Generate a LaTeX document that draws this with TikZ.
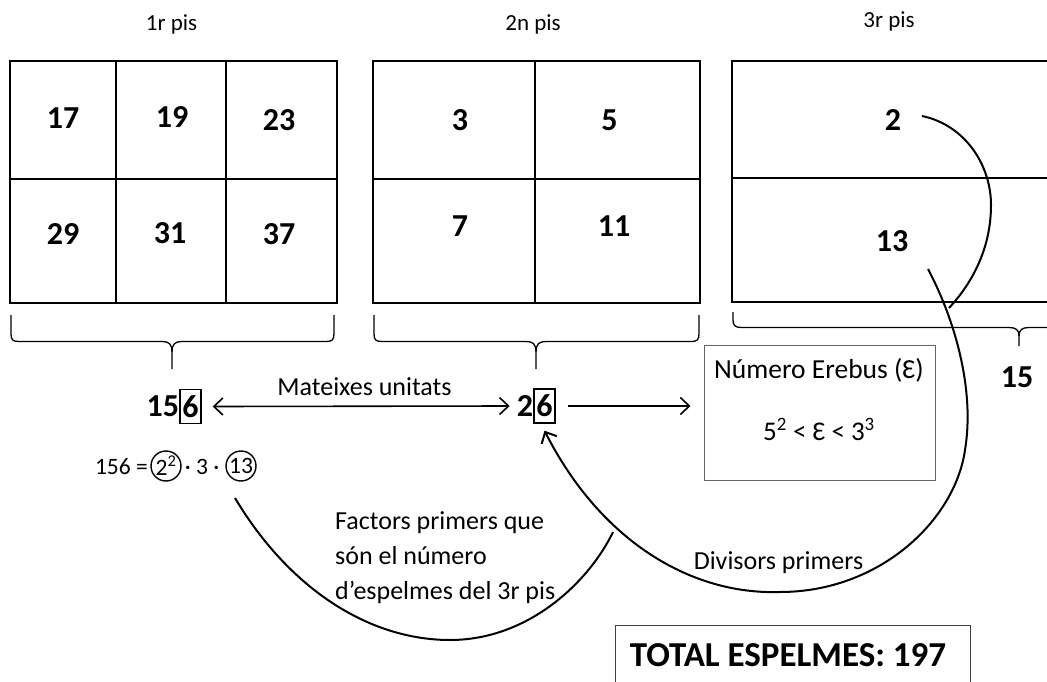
\documentclass[tikz,border=0pt]{standalone}
\usepackage{fontspec}
\setmainfont{Carlito}
\usetikzlibrary{arrows.meta}
\begin{document}
\begin{tikzpicture}[x=1pt,y=-1pt,
  lbl/.style={font=\fontsize{23}{27}\selectfont, inner sep=0pt},
  txt/.style={font=\fontsize{26}{30}\selectfont, inner sep=0pt},
  eqt/.style={font=\fontsize{23.5}{27}\selectfont, inner sep=0pt},
  num/.style={font=\fontsize{32}{36}\selectfont\bfseries, inner sep=0pt},
  outerline/.style={line width=2.2pt},
  innerline/.style={line width=1.3pt},
  braceline/.style={line width=1.3pt},
  unitbox/.style={draw, line width=1.4pt, inner sep=0pt, minimum width=21pt, minimum height=34pt, font=\fontsize{32}{36}\selectfont\bfseries},
  fcirc/.style={draw, circle, line width=1.4pt, inner sep=0pt, minimum size=30pt, font=\fontsize{23.5}{27}\selectfont},
  arrline/.style={line width=1.6pt},
  curveline/.style={line width=2pt},
  >={Straight Barb[length=9pt,width=17pt]}
]
\useasboundingbox (0,0) rectangle (1047,682);
\fill[white] (0,0) rectangle (1047,682);

% titles
\node[lbl, anchor=base] (t1) at (171.5,31) {1r pis};
\node[lbl, anchor=base] (t2) at (533,31) {2n pis};
\node[lbl, anchor=base] (t3) at (889,28) {3r pis};

% floor 1
\draw[innerline] (116,61) -- (116,303) (226,61) -- (226,303) (10,179) -- (337,179);
\draw[outerline] (10,61) rectangle (337,303);
\node[num] (c17) at (63,118.5) {17};
\node[num] (c19) at (172,117) {19};
\node[num] (c23) at (279,120) {23};
\node[num] (c29) at (63,234) {29};
\node[num] (c31) at (170,233) {31};
\node[num] (c37) at (279,234) {37};

% floor 2
\draw[innerline] (535,61) -- (535,303) (373,179) -- (700,179);
\draw[outerline] (373,61) rectangle (700,303);
\node[num] (c3) at (460,120) {3};
\node[num] (c5) at (609.5,120) {5};
\node[num] (c7) at (460,226) {7};
\node[num] (c11) at (614,226) {11};

% floor 3
\draw[innerline] (732,178) -- (1060,178);
\draw[outerline] (732,61) rectangle (1060,302);
\node[num] (c2) at (893,120) {2};
\node[num] (c13) at (892,241) {13};

% braces
\draw[braceline] (11,315) -- (11,334) .. controls (11,340) and (13,341.5) .. (19,341.5) -- (162,341.5)
  .. controls (169,341.5) and (172,344) .. (172,352) -- (172,369);
\draw[braceline] (334,315) -- (334,334) .. controls (334,340) and (332,341.5) .. (326,341.5) -- (182,341.5)
  .. controls (175,341.5) and (172,344) .. (172,352);
\draw[braceline] (374,315) -- (374,334) .. controls (374,340) and (376,341.5) .. (382,341.5) -- (526,341.5)
  .. controls (533,341.5) and (536,344) .. (536,352) -- (536,369);
\draw[braceline] (699,315) -- (699,334) .. controls (699,340) and (697,341.5) .. (691,341.5) -- (546,341.5)
  .. controls (539,341.5) and (536,344) .. (536,352);
\draw[braceline] (733,312) -- (733,320) .. controls (733,325) and (735,327.5) .. (741,327.5) -- (1009,327.5)
  .. controls (1016,327.5) and (1019,330) .. (1019,336) -- (1019,346);
\draw[braceline] (1060,327.5) -- (1029,327.5) .. controls (1022,327.5) and (1019,330) .. (1019,336);
\node[num] (n15) at (1017,377) {15};

% 156 and 26
\node[unitbox] (u156) at (190.5,406.5) {6};
\node[num, anchor=east] (t156) at (u156.west) {15};
\node[unitbox] (u26) at (544.5,406) {6};
\node[num, anchor=east] (t26) at (u26.west) {2};
\draw[arrline,<->] ([xshift=11pt]u156.east) -- ([xshift=-7pt]t26.west);
\node[txt, anchor=base] (mu) at (364.5,395) {Mateixes unitats};

% Erebus
\node[draw=black!60, line width=1pt, minimum width=231pt, minimum height=135pt, inner sep=0pt] (ereb) at (819.5,412.5) {};
\node[txt, font=\fontsize{27.5}{30}\selectfont, anchor=base] (e1) at (819,378) {Número Erebus (Ɛ)};
\node[txt, font=\fontsize{27}{30}\selectfont, anchor=base] (e2) at (819,440) {5\textsuperscript{2} < Ɛ < 3\textsuperscript{3}};
\draw[arrline,->] ([xshift=12pt]u26.east) -- ([xshift=-13pt]ereb.west |- u26.east);

% factorisation
\node[eqt, anchor=east] (eq) at (148,467) {156 =};
\node[fcirc] (f2) at (166,466) {2\textsuperscript{2}};
\node[eqt] (f3) at (202,467) {· 3 ·};
\node[fcirc] (f13) at (241,466) {13};

% factors curve
\coordinate (fa) at (235,498);
\coordinate (fb) at (613,532);
\draw[curveline] (fa) .. controls (290,590) and (370,640) .. (450,640) .. controls (530,640) and (590,580) .. (fb);
\node[txt, anchor=base west] (ft1) at (335,529) {Factors primers que};
\node[txt, anchor=base west] (ft2) at (335,564) {són el número};
\node[txt, anchor=base west] (ft3) at (335,599) {d’espelmes del 3r pis};

% divisors curve
\coordinate (da) at (928,269);
\draw[curveline,->] (da) .. controls (955,320) and (975,390) .. (965,450)
  .. controls (955,520) and (880,592) .. (780,592)
  .. controls (690,595) and (600,540) .. ([yshift=-7pt]u26.south);
\node[txt, anchor=base] (dv) at (778.5,569) {Divisors primers};

% arc from 2
\coordinate (ta) at (922,116);
\coordinate (tb) at (949,308);
\draw[curveline] (ta) .. controls (965,125) and (991,165) .. (991,205) .. controls (991,245) and (975,280) .. (tb);

% total
\draw[line width=1pt, draw=black!75] (615,700) -- (615,625) -- (970,625) -- (970,700);
\node[font=\fontsize{35}{40}\selectfont\bfseries, inner sep=0pt, anchor=base] (tot) at (788,666) {TOTAL ESPELMES: 197};
\end{tikzpicture}
\end{document}
